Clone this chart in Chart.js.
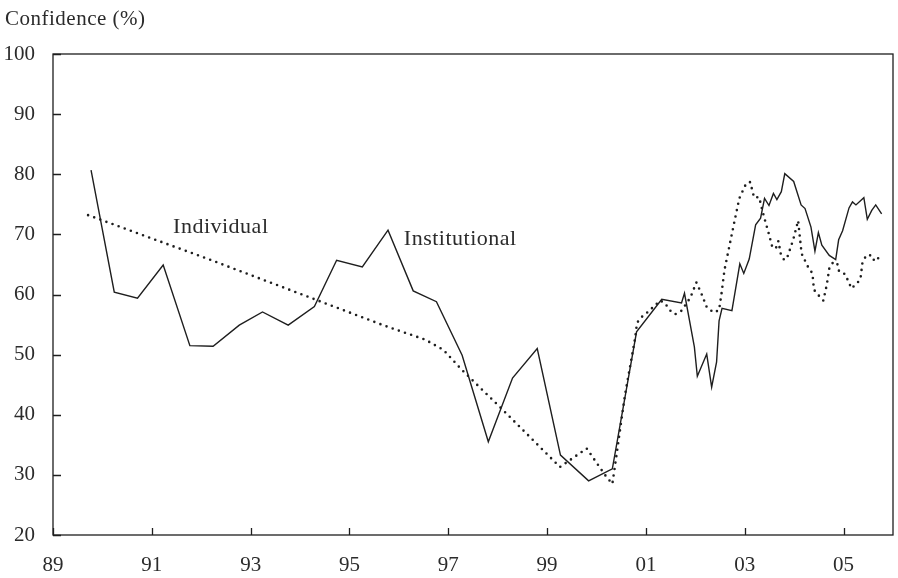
<!DOCTYPE html>
<html>
<head>
<meta charset="utf-8">
<script src="https://cdn.jsdelivr.net/npm/chart.js@4.4.1/dist/chart.umd.min.js"></script>
<style>
  html, body { margin: 0; padding: 0; background: #fff; }
  canvas { display: block; }
</style>
</head>
<body>
<canvas id="myChart" width="898" height="578"></canvas>
<script>
// Axis ticks
var xTicks = [1989, 1991, 1993, 1995, 1997, 1999, 2001, 2003, 2005];
var yTicks = [20, 30, 40, 50, 60, 70, 80, 90, 100];

// Institutional confidence (solid line)
var instYears = [1989.77, 1990.24, 1990.71, 1991.23, 1991.77, 1992.24, 1992.77, 1993.24, 1993.76, 1994.29,
    1994.74, 1995.26, 1995.78, 1996.29, 1996.76, 1997.28, 1997.81, 1998.30, 1998.80, 1999.27,
    1999.84, 2000.32, 2000.81, 2001.32, 2001.72, 2001.78, 2001.98, 2002.04, 2002.23, 2002.33,
    2002.43, 2002.48, 2002.54, 2002.74, 2002.90, 2002.98, 2003.09, 2003.22, 2003.32, 2003.40,
    2003.49, 2003.58, 2003.65, 2003.74, 2003.81, 2003.99, 2004.14, 2004.22, 2004.34, 2004.42,
    2004.49, 2004.56, 2004.71, 2004.84, 2004.90, 2004.98, 2005.11, 2005.18, 2005.25, 2005.41,
    2005.48, 2005.57, 2005.65, 2005.77];
var instValues = [80.7, 60.4, 59.4, 64.9, 51.5, 51.4, 54.9, 57.1, 54.9, 58.0,
    65.7, 64.6, 70.7, 60.6, 58.8, 49.9, 35.5, 46.1, 51.0, 33.3,
    29.0, 31.0, 53.8, 59.2, 58.6, 60.2, 51.3, 46.4, 50.1, 44.6,
    48.8, 55.6, 57.7, 57.3, 65.1, 63.5, 65.9, 71.6, 72.7, 76.0,
    74.8, 76.8, 75.8, 77.1, 80.1, 78.8, 74.9, 74.3, 71.2, 67.2,
    70.3, 68.2, 66.5, 65.8, 69.1, 70.6, 74.4, 75.4, 74.9, 76.1,
    72.5, 74.0, 74.9, 73.4];

// Individual confidence (dotted line)
var indYears = [1989.71, 1992.24, 1994.20, 1995.68, 1996.53, 1996.90, 1997.27, 1998.08, 1999.26, 1999.80,
    2000.17, 2000.32, 2000.37, 2000.57, 2000.78, 2000.82, 2000.92, 2001.04, 2001.17, 2001.29,
    2001.39, 2001.48, 2001.59, 2001.72, 2001.90, 2002.02, 2002.12, 2002.23, 2002.37, 2002.48,
    2002.53, 2002.59, 2002.69, 2002.79, 2002.89, 2003.03, 2003.11, 2003.19, 2003.29, 2003.39,
    2003.48, 2003.56, 2003.63, 2003.68, 2003.73, 2003.80, 2003.87, 2003.98, 2004.08, 2004.15,
    2004.28, 2004.37, 2004.40, 2004.49, 2004.59, 2004.66, 2004.71, 2004.79, 2004.87, 2004.91,
    2005.03, 2005.16, 2005.26, 2005.34, 2005.38, 2005.45, 2005.53, 2005.60, 2005.68, 2005.76];
var indValues = [73.2, 65.6, 59.5, 54.9, 52.5, 50.8, 47.5, 41.0, 31.3, 34.4,
    30.0, 28.5, 31.3, 43.0, 52.7, 55.3, 56.3, 57.1, 58.1, 59.0,
    58.5, 57.4, 56.7, 57.3, 59.5, 62.0, 60.2, 57.9, 57.0, 57.4,
    60.2, 64.1, 68.1, 72.1, 76.0, 78.5, 78.7, 76.1, 76.2, 72.9,
    70.3, 67.8, 67.7, 68.9, 66.7, 65.7, 66.4, 69.1, 72.3, 66.8,
    64.6, 63.5, 60.8, 59.9, 59.0, 61.6, 64.3, 65.4, 65.2, 63.8,
    63.4, 61.0, 61.8, 62.5, 65.2, 66.4, 66.6, 65.7, 66.3, 65.2];

// Text labels
var yTitle = "Confidence (%)";
var seriesNames = ["Individual", "Institutional"];
var seriesLabelAt = [[1991.43, 70.2], [1996.10, 68.2]];

var inkColor = "#1e1e1e";
var textColor = "#2b2b2b";
var fontFamily = '"Liberation Serif", "DejaVu Serif", serif';

function toPoints(xs, ys) {
    let pts = [];
    for (let i = 0; i < xs.length; i++) {
        pts.push({ x: xs[i], y: ys[i] });
    }
    return pts;
}

/**
 * draws the frame, the inward tick marks and the text labels
 */
var decorPlugin = {
    id: "decor",
    afterDatasetsDraw(chart) {
        let ctx = chart.ctx;
        let area = chart.chartArea;
        let xs = chart.scales.x;
        let ys = chart.scales.y;
        ctx.save();
        ctx.strokeStyle = inkColor;
        ctx.lineWidth = 1.3;
        ctx.strokeRect(area.left, area.top, area.right - area.left, area.bottom - area.top);
        ctx.beginPath();
        yTicks.forEach(v => {
            let py = Math.round(ys.getPixelForValue(v)) + 0.5;
            ctx.moveTo(area.left, py);
            ctx.lineTo(area.left + 8, py);
        });
        xTicks.forEach(v => {
            let px = Math.round(xs.getPixelForValue(v)) + 0.5;
            ctx.moveTo(px, area.bottom);
            ctx.lineTo(px, area.bottom - 7);
        });
        ctx.stroke();

        ctx.fillStyle = textColor;
        ctx.textBaseline = "alphabetic";
        ctx.textAlign = "left";
        ctx.font = "21px " + fontFamily;
        ctx.letterSpacing = "0.5px";
        ctx.fillText(yTitle, 5, 25);
        ctx.font = "22px " + fontFamily;
        ctx.letterSpacing = "0.5px";
        for (let i = 0; i < seriesNames.length; i++) {
            let px = xs.getPixelForValue(seriesLabelAt[i][0]);
            let py = ys.getPixelForValue(seriesLabelAt[i][1]);
            ctx.fillText(seriesNames[i], px, py);
        }
        ctx.restore();
    }
};

var config = {
    type: "line",
    data: {
        datasets: [{
            label: "Institutional",
            data: toPoints(instYears, instValues),
            borderColor: inkColor,
            borderWidth: 1.4,
            pointRadius: 0,
            tension: 0,
            fill: false
        }, {
            label: "Individual",
            data: toPoints(indYears, indValues),
            borderColor: inkColor,
            borderWidth: 2.6,
            borderDash: [0, 6.5],
            borderCapStyle: "round",
            borderJoinStyle: "round",
            pointRadius: 0,
            tension: 0,
            fill: false
        }]
    },
    options: {
        responsive: false,
        animation: false,
        devicePixelRatio: 1,
        layout: {
            padding: { top: 54, right: 5, left: 0, bottom: 0 }
        },
        plugins: {
            legend: { display: false },
            tooltip: { enabled: false }
        },
        scales: {
            x: {
                type: "linear",
                min: 1989,
                max: 2006,
                afterBuildTicks: scale => {
                    scale.ticks = xTicks.map(v => ({ value: v }));
                },
                afterFit: scale => {
                    scale.height = 43;
                },
                grid: { display: false, drawTicks: false },
                border: { display: false },
                ticks: {
                    color: textColor,
                    padding: 18,
                    maxRotation: 0,
                    autoSkip: false,
                    font: { family: fontFamily, size: 21 },
                    callback: v => String(v % 100).padStart(2, "0")
                }
            },
            y: {
                min: 20,
                max: 100,
                afterBuildTicks: scale => {
                    scale.ticks = yTicks.map(v => ({ value: v }));
                },
                afterFit: scale => {
                    scale.width = 53;
                },
                grid: { display: false, drawTicks: false },
                border: { display: false },
                ticks: {
                    color: textColor,
                    padding: 18,
                    font: { family: fontFamily, size: 21 }
                }
            }
        }
    },
    plugins: [decorPlugin]
};

var myChart = new Chart(document.getElementById("myChart"), config);
</script>
</body>
</html>
